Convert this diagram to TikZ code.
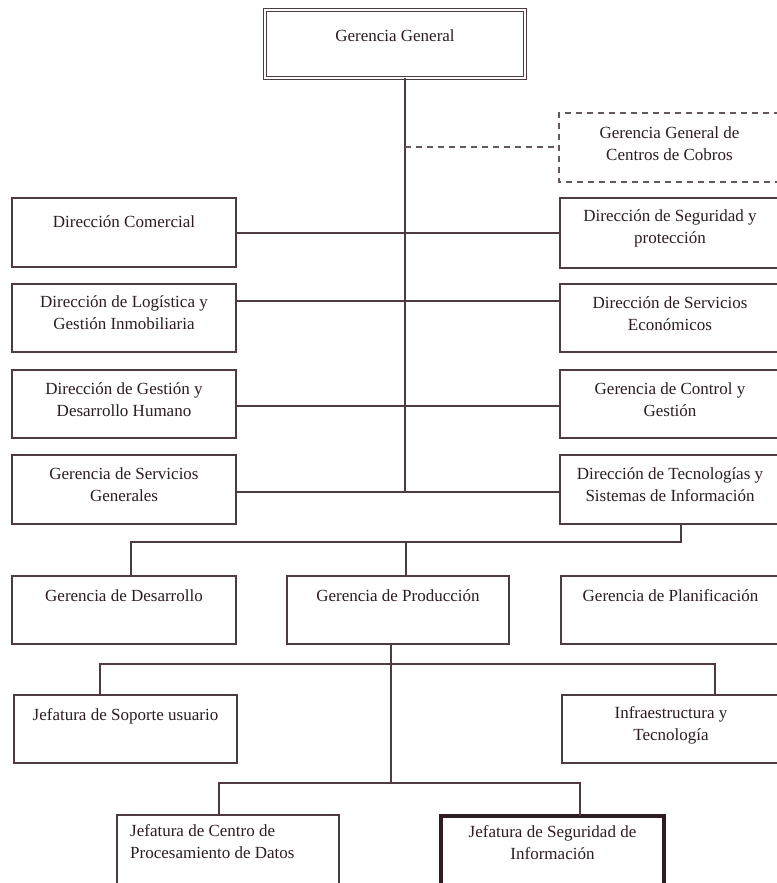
\documentclass[tikz,border=0pt]{standalone}
\usepackage{fontspec}
\setmainfont{Liberation Serif}
\usetikzlibrary{fit,calc}
\definecolor{lc}{RGB}{78,58,64}
\definecolor{tc}{RGB}{45,28,36}
\definecolor{dashc}{RGB}{100,88,94}
\begin{document}
\begin{tikzpicture}[x=1pt,y=-1pt,
  box/.style={draw=lc, line width=1.6pt, fill=white, inner sep=0pt, outer sep=0pt},
  dbox/.style={draw=lc, double, line width=1.4pt, double distance=2pt, fill=white, inner sep=0pt, outer sep=0pt},
  thickbox/.style={draw=tc, line width=3.6pt, fill=white, inner sep=0pt, outer sep=0pt},
  lab/.style={anchor=base, align=center, inner sep=0pt, text=tc, font=\fontsize{17}{22}\selectfont},
  conn/.style={draw=lc, line width=1.6pt},
  dconn/.style={draw=dashc, line width=1.5pt, dash pattern=on 6pt off 5pt},
]
\useasboundingbox (0,0) rectangle (776,883);

% ---------- boxes ----------
\node[dbox, fit={(265,10)(525,78)}] (gg) {};
\node[box, fit={(12,198)(236,267)}] (dc) {};
\node[box, fit={(560,198)(780,268)}] (dsp) {};
\node[box, fit={(12,284)(236,352)}] (dl) {};
\node[box, fit={(560,284)(780,352)}] (dse) {};
\node[box, fit={(12,370)(236,438)}] (dgh) {};
\node[box, fit={(560,370)(780,438)}] (gcg) {};
\node[box, fit={(12,455)(236,524)}] (gsg) {};
\node[box, fit={(560,455)(780,524)}] (dti) {};
\node[box, fit={(12,576)(236,644)}] (gd) {};
\node[box, fit={(287,576)(509,644)}] (gp) {};
\node[box, fit={(561,576)(780,644)}] (gpl) {};
\node[box, fit={(14,695)(237,763)}] (jsu) {};
\node[box, fit={(562,695)(780,763)}] (it) {};
\node[box, fit={(117,815)(339,890)}] (jcp) {};
\node[thickbox, fit={(441,816)(664,890)}] (jsi) {};
% dashed box (right side runs off the page)
\node[inner sep=0pt, outer sep=0pt, fit={(559,113)(780,182)}] (cob) {};
\draw[dconn] (cob.north east) -- (cob.north west) -- (cob.south west) -- (cob.south east);

% ---------- texts (base = baseline of last line) ----------
\node[lab] (gg-t)  at ([yshift=-32pt]gg.north)  {Gerencia General};
\node[lab] (cob-t) at ([yshift=-47pt]cob.north) {Gerencia General de\\Centros de Cobros};
\node[lab] (dc-t)  at ([yshift=-29pt]dc.north)  {Dirección Comercial};
\node[lab] (dsp-t) at ([yshift=-45pt]dsp.north) {Dirección de Seguridad y\\protección};
\node[lab] (dl-t)  at ([yshift=-45pt]dl.north)  {Dirección de Logística y\\Gestión Inmobiliaria};
\node[lab] (dse-t) at ([yshift=-46pt]dse.north) {Dirección de Servicios\\Económicos};
\node[lab] (dgh-t) at ([yshift=-46pt]dgh.north) {Dirección de Gestión y\\Desarrollo Humano};
\node[lab] (gcg-t) at ([yshift=-46pt]gcg.north) {Gerencia de Control y\\Gestión};
\node[lab] (gsg-t) at ([yshift=-46pt]gsg.north) {Gerencia de Servicios\\Generales};
\node[lab] (dti-t) at ([yshift=-46pt]dti.north) {Dirección de Tecnologías y\\Sistemas de Información};
\node[lab] (gd-t)  at ([yshift=-25pt]gd.north)  {Gerencia de Desarrollo};
\node[lab] (gp-t)  at ([yshift=-25pt]gp.north)  {Gerencia de Producción};
\node[lab] (gpl-t) at ([yshift=-25pt]gpl.north) {Gerencia de Planificación};
\node[lab] (jsu-t) at ([yshift=-25pt]jsu.north) {Jefatura de Soporte usuario};
\node[lab] (it-t)  at ([yshift=-45pt]it.north)  {Infraestructura y\\Tecnología};
\node[lab, anchor=base west, align=left] (jcp-t) at ([xshift=13pt,yshift=-43pt]jcp.north west) {Jefatura de Centro de\\Procesamiento de Datos};
\node[lab] (jsi-t) at ([yshift=-43pt]jsi.north) {Jefatura de Seguridad de\\Información};

% ---------- connectors ----------
\coordinate (h0) at (405,147);
\coordinate (h1) at (405,233);
\coordinate (h2) at (405,301);
\coordinate (h3) at (405,406);
\coordinate (h4) at (405,492);
\draw[conn] (gg.south -| h4) -- (h4);
\draw[dconn] (h0) -- (h0 -| cob.west);
\draw[conn] (dc.east |- h1) -- (dsp.west |- h1);
\draw[conn] (dl.east |- h2) -- (dse.west |- h2);
\draw[conn] (dgh.east |- h3) -- (gcg.west |- h3);
\draw[conn] (gsg.east |- h4) -- (dti.west |- h4);

\coordinate (t1) at (681,542);
\coordinate (t2) at (131,542);
\coordinate (t3) at (406,542);
\draw[conn] (dti.south -| t1) -- (t1) -- (t2) -- (gd.north -| t2);
\draw[conn] (t3) -- (gp.north -| t3);

\coordinate (u0) at (391,664);
\coordinate (u1) at (100,664);
\coordinate (u2) at (715,664);
\coordinate (v0) at (391,783);
\coordinate (v1) at (219,783);
\coordinate (v2) at (580,783);
\draw[conn] (gp.south -| u0) -- (v0);
\draw[conn] (jsu.north -| u1) -- (u1) -- (u2) -- (it.north -| u2);
\draw[conn] (jcp.north -| v1) -- (v1) -- (v2) -- (jsi.north -| v2);
\end{tikzpicture}
\end{document}
